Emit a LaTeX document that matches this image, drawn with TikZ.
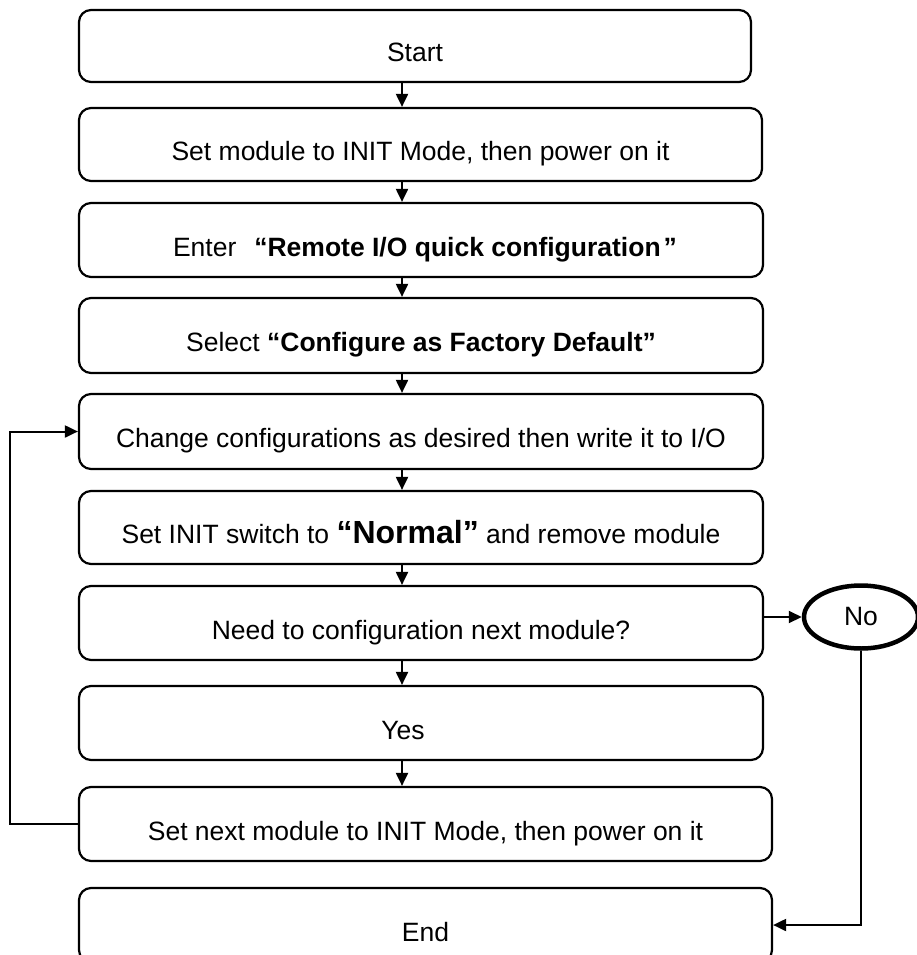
\documentclass[tikz,border=0pt]{standalone}
\usepackage{fontspec}
\setmainfont{Liberation Sans}
\usetikzlibrary{arrows.meta,shapes.geometric}

\begin{document}
\begin{tikzpicture}[x=1pt,y=-1pt,
  box/.style={draw, line width=2.2pt, rounded corners=12pt, inner sep=0pt,
    minimum height=74pt, text height=32pt, text depth=0pt,
    font=\fontsize{26.5}{30}\selectfont},
  conn/.style={line width=2pt, -{Triangle[length=13pt,width=12pt]}}]
\useasboundingbox (0,0) rectangle (916,955);
\node[box, minimum width=672pt, minimum height=72pt] (start) at (415,46) {Start};
\node[box, minimum width=683pt, minimum height=73pt] (power) at (420.5,144.5) {Set module to INIT Mode, then power on it};
\node[box, minimum width=684pt] (enter) at (421,240) {\kern8pt Enter\hspace{18pt}\textbf{“Remote I/O quick configuration\kern3pt”}};
\node[box, minimum width=684pt, minimum height=75pt] (select) at (421,335.5) {Select \textbf{“Configure as Factory Default”}};
\node[box, minimum width=684pt, minimum height=75pt] (change) at (421,431.5) {Change configurations as desired then write it to I/O};
\node[box, minimum width=684pt, minimum height=73pt] (normal) at (421,527.5) {Set INIT switch to \textbf{\fontsize{32}{34}\selectfont “Normal”} and remove module};
\node[box, minimum width=684pt] (need) at (421,623) {Need to configuration next module?};
\node[box, minimum width=684pt] (yes) at (421,723) {Yes\kern36pt\relax};
\node[box, minimum width=693pt] (next) at (425.5,824) {Set next module to INIT Mode, then power on it};
\node[box, minimum width=693pt] (end) at (425.5,925) {End};
\node[draw, ellipse, line width=4.5pt, inner sep=0pt, minimum width=114pt, minimum height=63pt,
  font=\fontsize{26.5}{30}\selectfont] (no) at (861,617) {No};
% down the main column
\coordinate (arrx) at (402,0);
\draw[conn] (start.south -| arrx) -- (power.north -| arrx);
\draw[conn] (power.south -| arrx) -- (enter.north -| arrx);
\draw[conn] (enter.south -| arrx) -- (select.north -| arrx);
\draw[conn] (select.south -| arrx) -- (change.north -| arrx);
\draw[conn] (change.south -| arrx) -- (normal.north -| arrx);
\draw[conn] (normal.south -| arrx) -- (need.north -| arrx);
\draw[conn] (need.south -| arrx) -- (yes.north -| arrx);
\draw[conn] (yes.south -| arrx) -- (next.north -| arrx);
% loop back and exit
\coordinate (loopx) at (10,0);
\draw[conn] (next.west) -- (next.west -| loopx) |- (change.west);
\draw[conn] (need.east |- no.west) -- (no.west);
\draw[conn] (no.south) |- (end.east);
\end{tikzpicture}
\end{document}
